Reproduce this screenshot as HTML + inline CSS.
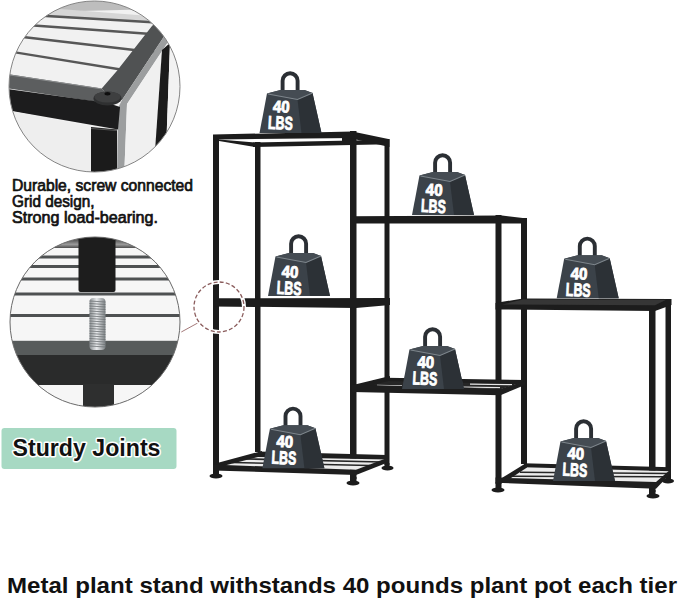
<!DOCTYPE html>
<html><head><meta charset="utf-8">
<style>
html,body{margin:0;padding:0;background:#fff;width:679px;height:600px;overflow:hidden}
svg{display:block}
text{font-family:"Liberation Sans",sans-serif;font-weight:bold}
</style></head>
<body>
<svg width="679" height="600" viewBox="0 0 679 600">
<defs>
  <clipPath id="c1"><circle cx="94.5" cy="86.5" r="85.5"/></clipPath>
  <clipPath id="c2"><circle cx="95" cy="322" r="85"/></clipPath>
  <linearGradient id="c2top" x1="0" x2="0" y1="0" y2="1">
    <stop offset="0" stop-color="#2a2a2a"/><stop offset="0.55" stop-color="#555"/><stop offset="0.8" stop-color="#9a9a9a"/><stop offset="1" stop-color="#4e4e4e"/>
  </linearGradient>
  <linearGradient id="scr" x1="0" x2="1" y1="0" y2="0">
    <stop offset="0" stop-color="#8a8f92"/><stop offset="0.45" stop-color="#e8eaec"/><stop offset="1" stop-color="#7d8285"/>
  </linearGradient>

  <g id="wt">
    <path d="M-7.9,-41 L-7.9,-52.2 A7.5,7.5 0 0 1 7.1,-52.2 L7.1,-41" fill="none" stroke="#2b2f34" stroke-width="3.9"/>
    <polygon points="-23.5,-39.5 -10,-43 14,-43 22,-40 31,0 -31,0" fill="#3b4249"/>
    <polygon points="7,-33.5 22,-40 31,0 11,0" fill="#2c3136"/>
    <polygon points="-23.5,-39.5 -10,-43 14,-43 22,-40 7,-33.5" fill="#454c53"/>
    <polyline points="-22.5,-39 7,-33.5 22,-40" fill="none" stroke="#7e868c" stroke-width="1.1"/>
  </g>
  <g id="wtxt" transform="rotate(3 -8 -17)">
    <text x="-17.2" y="-20.3" font-size="16.5" fill="#fff" stroke="#fff" stroke-width="0.9" textLength="16.7" lengthAdjust="spacingAndGlyphs">40</text>
    <text x="-21.2" y="-3.3" font-size="18.5" fill="#fff" stroke="#fff" stroke-width="0.9" textLength="24.8" lengthAdjust="spacingAndGlyphs">LBS</text>
  </g>

</defs>

<g clip-path="url(#c1)">
  <rect x="0" y="0" width="200" height="180" fill="#f1f1f1"/>
  <!-- far top grey -->
  <polygon points="0,0 200,0 200,8 40,12 0,14" fill="#bdbdbd"/>
  <polygon points="0,10 60,9 150,16 200,12 200,20 150,22 40,17 0,18" fill="#d6d6d6"/>
  <!-- slat lines -->
  <g stroke="#575757" stroke-width="2.3" fill="none">
    <line x1="30" y1="15" x2="165" y2="23"/>
    <line x1="20" y1="24.5" x2="165" y2="35"/>
    <line x1="10" y1="35.5" x2="160" y2="53"/>
    <line x1="0" y1="50" x2="130" y2="71"/>
  </g>
  <!-- left rail top surface (grey) -->
  <polygon points="0,73 101.7,88.4 108,96 104,103 0,87" fill="#5c5e5f"/>
  <line x1="0" y1="73.5" x2="101" y2="88.8" stroke="#8c8e8f" stroke-width="1"/>
  <!-- right rail top surface (grey diagonal) -->
  <polygon points="152,26 117,70.7 101.7,88.4 108,96 122,100 163,38 200,-5 190,-10" fill="#505253"/>
  <!-- light highlight band -->
  <polygon points="163,38 200,-5 200,3 168,42 127,104 124,180 117,180 118,108 122,100" fill="#9c9e9f"/>
  <!-- front black bar -->
  <polygon points="0,88 108,103 120,107 118,129.5 0,109" fill="#1c1c1d"/>
  <!-- bolt washer -->
  <ellipse cx="107.5" cy="98.5" rx="14" ry="7" fill="#2f3031"/>
  <ellipse cx="107.5" cy="97" rx="13" ry="5.5" fill="#3e3f40"/>
  <ellipse cx="107.5" cy="93.8" rx="3" ry="1.7" fill="#0e0e0e"/>
  <!-- white panel right -->
  <polygon points="168,42 200,8 200,180 124,180 127,104" fill="#f0f0f0"/>
  <!-- black upright -->
  <polygon points="162,50 170,43 165,180 153,180" fill="#1b1b1b"/>
  <polygon points="170,43 200,12 200,180 165,180" fill="#f2f2f2"/>
  <!-- leg -->
  <polygon points="91,127 117,129.5 117,180 91,180" fill="#1b1b1b"/>
  <line x1="91" y1="128.5" x2="117" y2="130.5" stroke="#555" stroke-width="1.2"/>
  <!-- white under bar left -->
  <polygon points="0,109 91,126.5 91,180 0,180" fill="#eeeeee"/>
</g>
<circle cx="94.5" cy="86.5" r="85.5" fill="none" stroke="#858585" stroke-width="1"/>

<text x="12" y="190.6" font-size="16" fill="#111" style="font-weight:normal" stroke="#111" stroke-width="0.7" textLength="181" lengthAdjust="spacingAndGlyphs">Durable, screw connected</text>
<text x="12" y="206.8" font-size="16" fill="#111" style="font-weight:normal" stroke="#111" stroke-width="0.7" textLength="82.5" lengthAdjust="spacingAndGlyphs">Grid design,</text>
<text x="12" y="223" font-size="16" fill="#111" style="font-weight:normal" stroke="#111" stroke-width="0.7" textLength="146" lengthAdjust="spacingAndGlyphs">Strong load-bearing.</text>

<g clip-path="url(#c2)">
  <rect x="0" y="230" width="200" height="190" fill="#f6f6f6"/>
  <rect x="0" y="230" width="200" height="18" fill="url(#c2top)"/>
  <g stroke="#4e5152" stroke-width="3.2">
    <line x1="0" y1="257" x2="200" y2="257"/>
    <line x1="0" y1="266.5" x2="200" y2="266.5"/>
    <line x1="0" y1="279" x2="200" y2="279"/>
    <line x1="0" y1="294" x2="200" y2="294"/>
    <line x1="0" y1="315.5" x2="200" y2="315.5"/>
  </g>
  <rect x="78.5" y="230" width="37" height="62" rx="2" fill="#1d1d1d"/>
  <rect x="0" y="340.8" width="200" height="14.5" fill="#575b5b"/>
  <rect x="0" y="355" width="200" height="30" fill="#2a2b2b"/>
  <rect x="83" y="384" width="31" height="30" fill="#2e2f2f"/>
  <!-- screw -->
  <rect x="89.5" y="298" width="16" height="52" rx="4" fill="url(#scr)"/>
  <g stroke="#6d7275" stroke-width="0.8">
<line x1="89.5" y1="301.0" x2="105.5" y2="302.0"/><line x1="89.5" y1="303.5" x2="105.5" y2="304.5"/><line x1="89.5" y1="306.0" x2="105.5" y2="307.0"/><line x1="89.5" y1="308.5" x2="105.5" y2="309.5"/><line x1="89.5" y1="311.0" x2="105.5" y2="312.0"/><line x1="89.5" y1="313.5" x2="105.5" y2="314.5"/><line x1="89.5" y1="316.0" x2="105.5" y2="317.0"/><line x1="89.5" y1="318.5" x2="105.5" y2="319.5"/><line x1="89.5" y1="321.0" x2="105.5" y2="322.0"/><line x1="89.5" y1="323.5" x2="105.5" y2="324.5"/><line x1="89.5" y1="326.0" x2="105.5" y2="327.0"/><line x1="89.5" y1="328.5" x2="105.5" y2="329.5"/><line x1="89.5" y1="331.0" x2="105.5" y2="332.0"/><line x1="89.5" y1="333.5" x2="105.5" y2="334.5"/><line x1="89.5" y1="336.0" x2="105.5" y2="337.0"/><line x1="89.5" y1="338.5" x2="105.5" y2="339.5"/><line x1="89.5" y1="341.0" x2="105.5" y2="342.0"/><line x1="89.5" y1="343.5" x2="105.5" y2="344.5"/><line x1="89.5" y1="346.0" x2="105.5" y2="347.0"/>
  </g>
</g>
<circle cx="95" cy="322" r="85" fill="none" stroke="#6a6a6a" stroke-width="1"/>

<rect x="1.5" y="428" width="175" height="41" rx="3" fill="#a7d9c3"/>
<text x="12.5" y="456" font-size="23" fill="#111" stroke="#fff" stroke-width="3" paint-order="stroke" stroke-linejoin="round" textLength="148" lengthAdjust="spacingAndGlyphs">Sturdy Joints</text>

<g fill="#1c1c1c">
  <!-- posts -->
  <rect x="213" y="135" width="6" height="338"/>
  <rect x="255" y="142" width="5.5" height="310"/>
  <rect x="350" y="131" width="6.5" height="348"/>
  <rect x="384.5" y="139" width="5" height="326"/>
  <rect x="495.5" y="215" width="6" height="269"/>
  <rect x="521" y="218" width="6" height="246"/>
  <rect x="649" y="305" width="6.5" height="187"/>
  <rect x="665.5" y="300" width="5.5" height="178"/>
  <!-- feet -->
  <ellipse cx="216" cy="476" rx="6.5" ry="2.6"/>
  <ellipse cx="353" cy="483" rx="6.5" ry="2.6"/>
  <ellipse cx="387.5" cy="468" rx="6" ry="2.4"/>
  <ellipse cx="498" cy="490" rx="6.5" ry="2.6"/>
  <ellipse cx="653" cy="496" rx="6.5" ry="2.6"/>
  <ellipse cx="668" cy="481" rx="6" ry="2.4"/>
  <rect x="213" y="470" width="6" height="6"/>
  <rect x="350" y="477" width="6.5" height="6"/>
  <rect x="384.5" y="463" width="5" height="5"/>
  <rect x="495.5" y="482" width="6" height="8"/>
  <rect x="649" y="490" width="6.5" height="6"/>
  <rect x="665.5" y="476" width="5.5" height="5"/>

  <!-- left tower top shelf -->
  <polygon points="213,134.5 352.3,131.6 356,131.8 356,138 219,139.5 213,139.5"/>
  <polygon points="213,139 255,142.5 255,147 219,141"/>
  <polygon points="253,142.6 389,139.7 389,144.3 253,147"/>
  <polygon points="352.3,131.6 389.5,139.2 389.5,147 356,139.5"/>
  <polygon points="342,138 350,138 350,141 342,141"/>

  <!-- left tower middle shelf -->
  <polygon points="213,298.3 390,298 390,305 356,308 213,306.4"/>

  <!-- middle tower top shelf -->
  <polygon points="351,216.2 502,215.5 527,218.4 527,223.6 351,223.6"/>

  <!-- right tower top shelf -->
  <polygon points="501,302 523,298.5 671.5,299 671.5,305 655,311 501,309.4 495.5,309.4 495.5,303"/>
</g>
<polygon points="523,299.6 666,299.8 655,305.3 502,304.5" fill="#363636"/>

<!-- left tower bottom shelf -->
<polygon points="219,465 260,455.5 387,459.5 356,470" fill="#ececec"/>
<g stroke="#262626" stroke-width="1.7">
  <line x1="232" y1="462.5" x2="370" y2="465.5"/>
  <line x1="246" y1="459" x2="382" y2="462"/>
</g>
<g fill="#1e1e1e">
  <polygon points="219,462.5 262,451 262,456 219,467"/>
  <polygon points="258,451.5 387,455 387,459.5 258,457"/>
  <polygon points="213,464.6 356,469.8 356,475 213,470.5"/>
  <polygon points="356,469.8 387,458 389,462 356,475"/>
</g>

<!-- middle tower lower shelf -->
<polygon points="355,386 390,378 525,381.5 501,389" fill="#262626"/>
<g stroke="#e6e6e6" stroke-width="1.2">
  <line x1="377" y1="385.3" x2="402" y2="385.8"/>
  <line x1="462" y1="387" x2="500" y2="387.6"/>
  <line x1="470" y1="384.2" x2="512" y2="384.6"/>
</g>
<g fill="#1e1e1e">
  <polygon points="355,384.5 390,376 390,380.5 362,388"/>
  <polygon points="385,377.7 525,380 525,384 385,381"/>
  <polygon points="352,384.5 501,388.7 501,395.3 352,392"/>
  <polygon points="501,388.7 525,381 525,385 501,395"/>
</g>

<!-- right tower bottom shelf -->
<polygon points="501,481 527,467 671,471 656,482.5" fill="#ececec"/>
<g stroke="#262626" stroke-width="1.6">
  <line x1="512" y1="476.3" x2="663" y2="476.8"/>
  <line x1="520" y1="472.3" x2="668" y2="473.5"/>
</g>
<g fill="#1e1e1e">
  <polygon points="501,478.5 527,462.5 527,467.5 505,482"/>
  <polygon points="524,463.3 671,467.2 671,471.3 524,467.3"/>
  <polygon points="495.5,477.6 656,482 656,488.8 495.5,482.7"/>
  <polygon points="656,482 671,469 671,473 656,488.8"/>
</g>

<use href="#wt" x="290.5" y="133"/><use href="#wtxt" x="289.7" y="132.7"/>
<use href="#wt" x="443" y="215"/><use href="#wtxt" x="442.6" y="215.8"/>
<use href="#wt" x="299" y="296"/><use href="#wtxt" x="298.4" y="297.8"/>
<use href="#wt" x="587.7" y="298.3"/><use href="#wtxt" x="587.5" y="299.7"/>
<use href="#wt" x="433" y="389"/><use href="#wtxt" x="434.2" y="388.2"/>
<use href="#wt" x="293.4" y="468.3"/><use href="#wtxt" x="293.2" y="467.5"/>
<use href="#wt" x="584" y="481"/><use href="#wtxt" x="584.2" y="479.6"/>
<line x1="181.3" y1="332" x2="197.7" y2="323" stroke="#9a6a6a" stroke-width="0.9"/>
<circle cx="219" cy="307" r="25" fill="none" stroke="#fff" stroke-width="4"/>
<circle cx="219" cy="307" r="25" fill="none" stroke="#8a5c5c" stroke-width="1.3" stroke-dasharray="4 2.2"/>
<text x="7" y="592.6" font-size="22" fill="#111" textLength="670" lengthAdjust="spacingAndGlyphs">Metal plant stand withstands 40 pounds plant pot each tier</text>
</svg>
</body></html>
